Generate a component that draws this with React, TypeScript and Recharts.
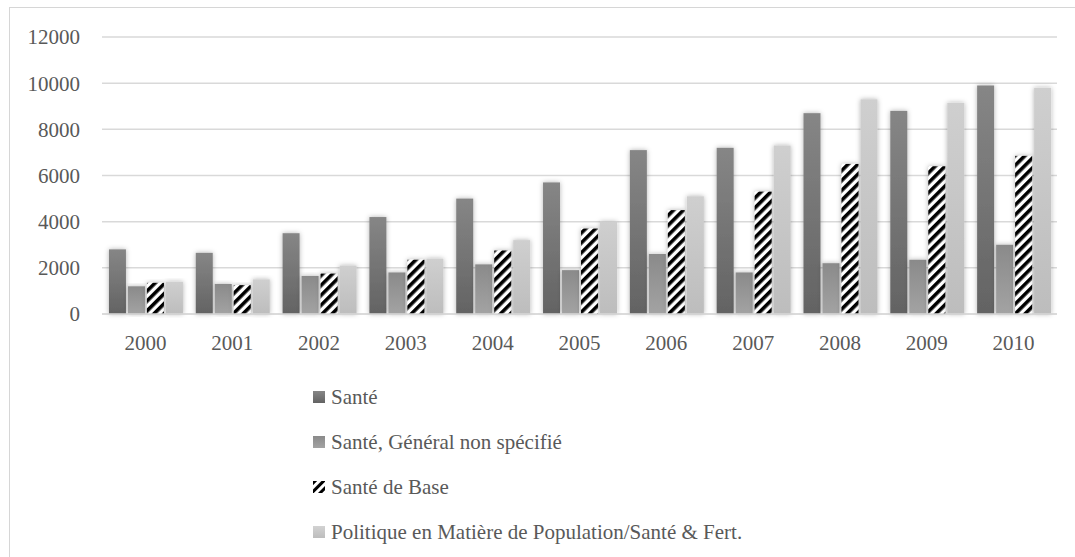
import { BarChart, Bar, XAxis, YAxis, CartesianGrid } from "recharts";

const years = ["2000", "2001", "2002", "2003", "2004", "2005", "2006", "2007", "2008", "2009", "2010"];
const sante = [2800, 2650, 3500, 4200, 5000, 5700, 7100, 7200, 8700, 8800, 9900];
const santeGeneral = [1200, 1300, 1650, 1800, 2150, 1900, 2600, 1800, 2200, 2350, 3000];
const santeBase = [1350, 1250, 1750, 2350, 2750, 3700, 4500, 5300, 6500, 6400, 6850];
const politique = [1400, 1500, 2100, 2400, 3200, 4000, 5100, 7300, 9300, 9150, 9800];
const yTicks = [0, 2000, 4000, 6000, 8000, 10000, 12000];

const seriesNames = [
  "Santé",
  "Santé, Général non spécifié",
  "Santé de Base",
  "Politique en Matière de Population/Santé & Fert.",
];

const data = years.map((year, i) => ({
  year,
  sante: sante[i],
  general: santeGeneral[i],
  base: santeBase[i],
  politique: politique[i],
}));

const font = "Liberation Serif";
const textColor = "#595959";

const ShadowRect = (props: any) => {
  const { x, y, width, height, fill } = props;
  if (!height || height <= 0) return null;
  return <rect x={x} y={y} width={width} height={height} fill={fill} filter="url(#barGlow)" />;
};

function Defs() {
  return (
    <defs>
      <linearGradient id="gSante" x1="0" y1="0" x2="0" y2="1">
        <stop offset="0%" stopColor="#868686" />
        <stop offset="100%" stopColor="#636363" />
      </linearGradient>
      <linearGradient id="gGeneral" x1="0" y1="0" x2="0" y2="1">
        <stop offset="0%" stopColor="#8a8a8a" />
        <stop offset="100%" stopColor="#a3a3a3" />
      </linearGradient>
      <linearGradient id="gPol" x1="0" y1="0" x2="0" y2="1">
        <stop offset="0%" stopColor="#cfcfcf" />
        <stop offset="100%" stopColor="#bdbdbd" />
      </linearGradient>
      <pattern id="pBase" patternUnits="userSpaceOnUse" width="7" height="7" patternTransform="rotate(45)">
        <rect x="0" y="0" width="7" height="7" fill="#ffffff" />
        <rect x="0" y="0" width="3.6" height="7" fill="#000000" />
      </pattern>
      <filter id="barGlow" x="-40%" y="-10%" width="180%" height="120%">
        <feDropShadow dx="0" dy="0" stdDeviation="2.4" floodColor="#000000" floodOpacity="0.3" />
      </filter>
    </defs>
  );
}

const legendFills = ["url(#lgSante)", "url(#lgGeneral)", "url(#lpBase)", "url(#lgPol)"];

function LegendIcon({ index }: { index: number }) {
  return (
    <svg width={12} height={12} style={{ display: "block" }}>
      <defs>
        <linearGradient id="lgSante" x1="0" y1="0" x2="0" y2="1">
          <stop offset="0%" stopColor="#868686" />
          <stop offset="100%" stopColor="#636363" />
        </linearGradient>
        <linearGradient id="lgGeneral" x1="0" y1="0" x2="0" y2="1">
          <stop offset="0%" stopColor="#8a8a8a" />
          <stop offset="100%" stopColor="#a3a3a3" />
        </linearGradient>
        <linearGradient id="lgPol" x1="0" y1="0" x2="0" y2="1">
          <stop offset="0%" stopColor="#d2d2d2" />
          <stop offset="100%" stopColor="#bdbdbd" />
        </linearGradient>
        <pattern id="lpBase" patternUnits="userSpaceOnUse" width="6" height="6" patternTransform="rotate(45)">
          <rect x="0" y="0" width="6" height="6" fill="#ffffff" />
          <rect x="0" y="0" width="3" height="6" fill="#000000" />
        </pattern>
      </defs>
      <rect x={0} y={0} width={12} height={12} fill={legendFills[index]} />
    </svg>
  );
}

const legendRows = [397, 442, 487, 532];

export default function App() {
  return (
    <div
      style={{
        position: "absolute",
        left: 0,
        top: 0,
        width: 1075,
        height: 557,
        background: "#ffffff",
        overflow: "hidden",
        fontFamily: font,
      }}
    >
      <div
        style={{
          position: "absolute",
          left: 9,
          top: 7,
          right: 0,
          bottom: 0,
          borderLeft: "1px solid #d6d6d6",
          borderTop: "1px solid #d6d6d6",
        }}
      />
      <div style={{ position: "absolute", left: 0, top: 0 }}>
        <BarChart
          width={1075}
          height={557}
          data={data}
          margin={{ top: 37, right: 18, bottom: 213, left: 0 }}
          barCategoryGap="8%"
          barGap={2}
        >
          <Defs />
          <CartesianGrid vertical={false} stroke="#d9d9d9" strokeWidth={1.5} />
          <XAxis
            dataKey="year"
            height={30}
            axisLine={{ stroke: "#d9d9d9", strokeWidth: 1.5 }}
            tickLine={false}
            tickMargin={15}
            tick={{ fill: textColor, fontSize: 21, fontFamily: font }}
          />
          <YAxis
            width={102}
            domain={[0, 12000]}
            ticks={yTicks}
            axisLine={false}
            tickLine={false}
            tickMargin={16}
            tick={{ fill: textColor, fontSize: 21, fontFamily: font }}
          />
          <Bar dataKey="sante" name={seriesNames[0]} fill="url(#gSante)" shape={ShadowRect} isAnimationActive={false} />
          <Bar dataKey="general" name={seriesNames[1]} fill="url(#gGeneral)" shape={ShadowRect} isAnimationActive={false} />
          <Bar dataKey="base" name={seriesNames[2]} fill="url(#pBase)" shape={ShadowRect} isAnimationActive={false} />
          <Bar dataKey="politique" name={seriesNames[3]} fill="url(#gPol)" shape={ShadowRect} isAnimationActive={false} />
        </BarChart>
      </div>
      {seriesNames.map((name, i) => (
        <div
          key={name}
          style={{
            position: "absolute",
            left: 313,
            top: legendRows[i] - 13,
            height: 26,
            display: "flex",
            alignItems: "center",
            gap: 6,
            color: textColor,
            fontFamily: font,
            fontSize: 21,
            whiteSpace: "nowrap",
          }}
        >
          <LegendIcon index={i} />
          <span>{name}</span>
        </div>
      ))}
    </div>
  );
}
